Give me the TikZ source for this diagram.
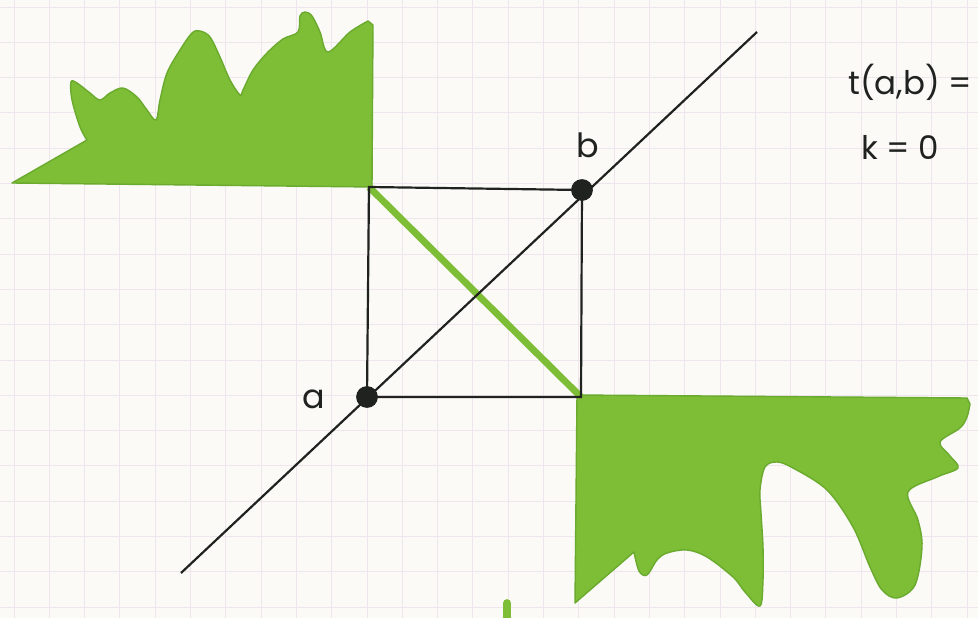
\documentclass[tikz,border=0pt]{standalone}
\usepackage{fontspec}
\usetikzlibrary{positioning}
\newfontfamily\handfont{Poppins}
\definecolor{paper}{RGB}{251,250,246}
\definecolor{gridpink}{RGB}{238,230,236}
\definecolor{markergreen}{RGB}{126,189,54}
\definecolor{markeredge}{RGB}{106,170,46}
\definecolor{pen}{RGB}{32,34,32}

\begin{document}
\begin{tikzpicture}[
  x=0.02cm, y=-0.02cm,
  every node/.style={font=\handfont, text=pen},
  gridline/.style={draw=gridpink, line width=0.5pt},
  region/.style={fill=markergreen, draw=markeredge, line width=0.8pt, line join=round},
  penline/.style={draw=pen, line width=1.25pt},
  greenline/.style={draw=markergreen, line width=3.9pt},
  dot/.style={circle, fill=pen, inner sep=0pt, minimum size=0.43cm},
  ptname/.style={font=\handfont\fontsize{19}{21}\selectfont},
  formula/.style={font=\handfont\fontsize{18.5}{21}\selectfont, anchor=west, inner sep=0pt}
]
\useasboundingbox[fill=paper] (0,0) rectangle (978,618);

% Grid paper
\foreach \i in {0,...,27}
  \draw[gridline] ({14+35.3*\i},0) -- ({14+35.3*\i},618);
\foreach \j in {0,...,17}
  \draw[gridline] (0,{7+35.3*\j}) -- (978,{7+35.3*\j});

% Upper left region
\path[region] (12,183) -- (372,187) -- (373,25)
  -- plot[smooth, tension=0.55] coordinates {(368,21) (350,32) (328,52) (320,32) (312,16) (305,12)
     (300,16) (298,32) (283,39) (267,53) (253,70) (243,90) (240,95) (230,80) (220,57) (210,37)
     (200,31) (192,33) (180,50) (167,73) (160,100) (156,120) (147,110) (137,97) (123,88) (110,93)
     (100,100) (90,93) (77,83) (71,82) (72,100) (80,127) (87,140)}
  -- cycle;

% Lower right region
\path[region] (577,395) -- (967,398)
  -- plot[smooth, tension=0.55] coordinates {(970,404) (967,417) (960,428) (940,442) (950,456)
     (958,468) (937,477) (908,492) (918,520) (922,547) (915,585) (897,598) (882,590) (870,567)
     (853,527) (827,490) (793,468) (777,462) (765,467) (760,490) (761,513) (763,547) (763,580)
     (760,606) (745,592) (733,577) (707,557) (687,550) (667,553) (657,560) (647,575) (639,571)
     (634,552)}
  -- (575,603) -- cycle;

% Small green mark at the bottom
\draw[markergreen, line width=4.4pt, line cap=round] (507,603) -- (507,630);

% Points and square
\coordinate (tl) at (369,187);
\coordinate (br) at (581,397);
\coordinate (lo) at (181,573);
\coordinate (hi) at (757,32);
\node[dot] (a) at (367,397) {};
\node[dot] (b) at (582,190) {};

\draw[greenline] (tl) -- (br);
\draw[penline] (lo) -- (hi);
\draw[penline] (tl) -- (b.center) -- (br) -- (a.center) -- cycle;
\node[dot] at (a) {};
\node[dot] at (b) {};

% Labels
\node[ptname, left=0.5cm of a, yshift=-0.05cm] (alabel) {a};
\node[ptname, above=0.3cm of b, xshift=0.12cm] (blabel) {b};
\node[formula] (tab) at (848,82) {t(a,b) =};
\node[formula] (kzero) at (861,147) {k = 0};

\end{tikzpicture}
\end{document}
